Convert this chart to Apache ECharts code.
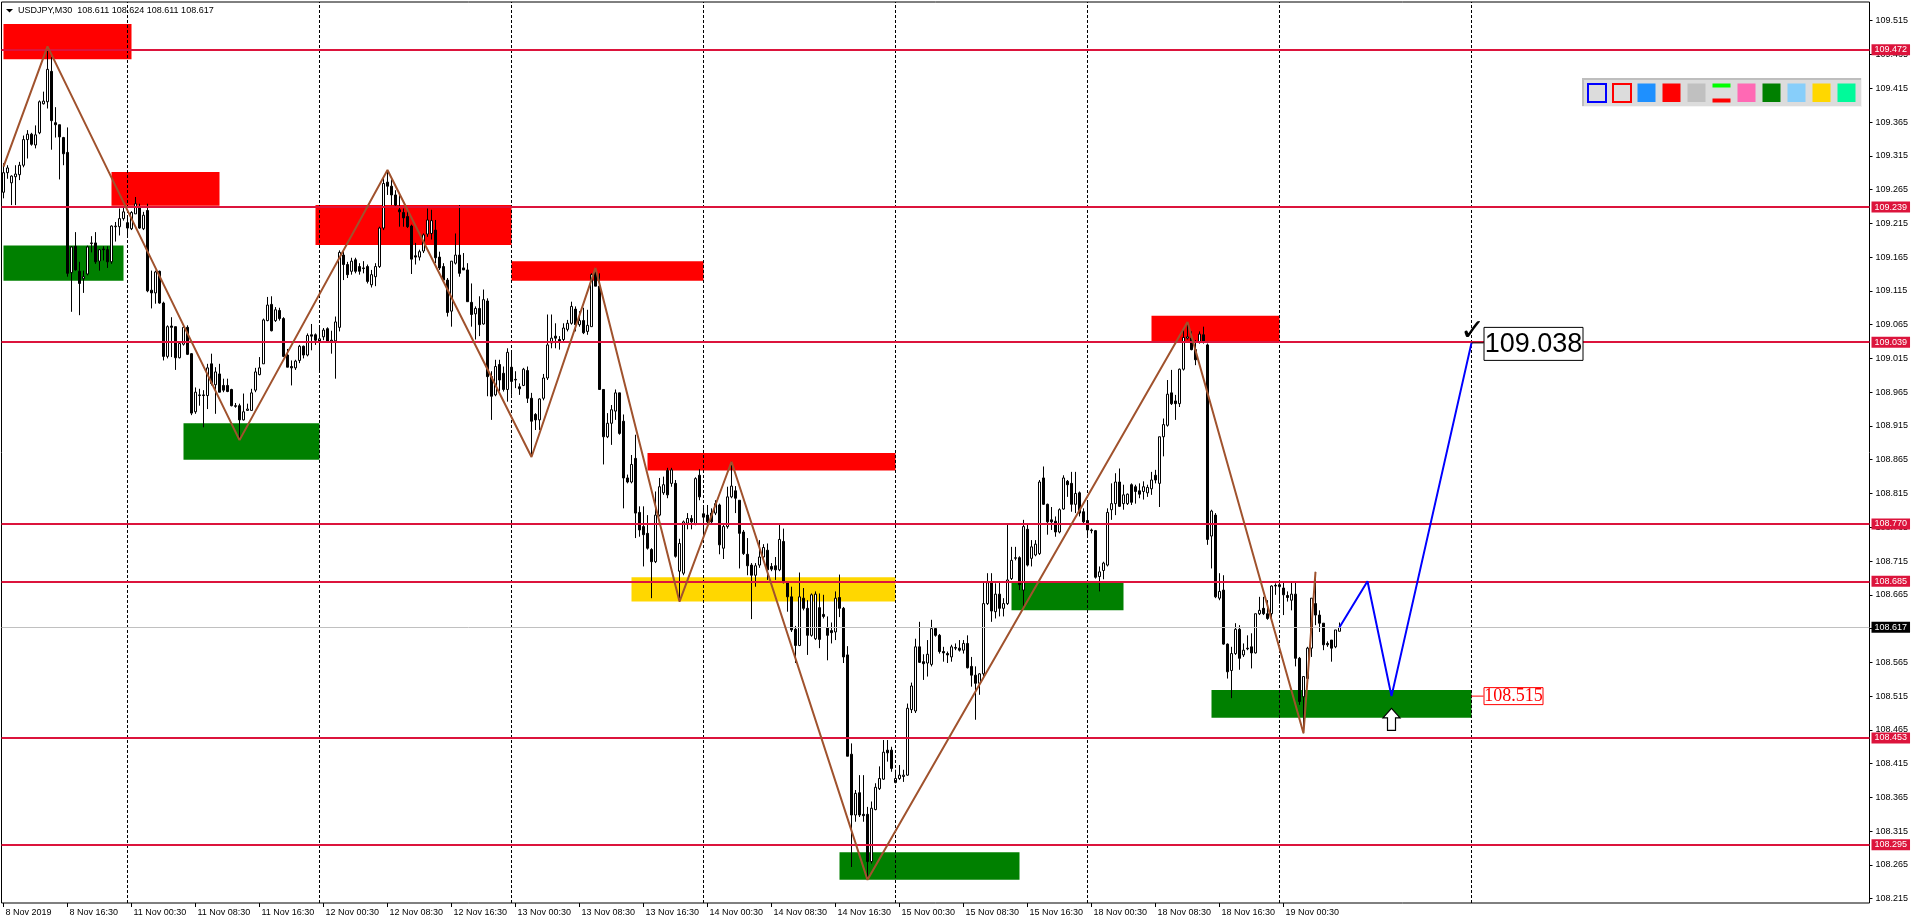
<!DOCTYPE html>
<html><head><meta charset="utf-8">
<script src="https://cdn.jsdelivr.net/npm/echarts@6/dist/echarts.min.js"></script>
<style>html,body{margin:0;padding:0;background:#fff;overflow:hidden}#c{width:1916px;height:923px}</style>
</head><body><div id="c"></div>
<script>
// ---------------- DATA ----------------
const titleText = 'USDJPY,M30  108.611 108.624 108.611 108.617';
const nSlots = 467; // bar slots on the time axis (real bars + chart shift)
const categories = Array.from({length: nSlots}, (_, i) => String(i));
const xTickLabels = ['8 Nov 2019','8 Nov 16:30','11 Nov 00:30','11 Nov 08:30','11 Nov 16:30','12 Nov 00:30','12 Nov 08:30','12 Nov 16:30','13 Nov 00:30','13 Nov 08:30','13 Nov 16:30','14 Nov 00:30','14 Nov 08:30','14 Nov 16:30','15 Nov 00:30','15 Nov 08:30','15 Nov 16:30','18 Nov 00:30','18 Nov 08:30','18 Nov 16:30','19 Nov 00:30'];
const yTickValues = [108.215,108.265,108.315,108.365,108.415,108.465,108.515,108.565,108.615,108.665,108.715,108.765,108.815,108.865,108.915,108.965,109.015,109.065,109.115,109.165,109.215,109.265,109.315,109.365,109.415,109.465,109.515];
const daySeparators = [31,79,127,175,223,271,319,367];
const levels = [109.472,109.239,109.039,108.770,108.685,108.453,108.295];
const bidPrice = 108.617;
// [startBar, endBar, top, bottom]
const redZones = [[0,32,109.510,109.458],[27,54,109.291,109.241],[78,127,109.242,109.183],[127,175,109.159,109.130],[161,223,108.875,108.849],[287,319,109.078,109.040]];
const greenZones = [[0,30,109.182,109.130],[45,79,108.919,108.865],[209,254,108.284,108.243],[252,280,108.685,108.642],[302,367,108.524,108.483]];
const yellowZones = [[157,223,108.691,108.655]];
const zigzagBars = [0,11,59,96,132,148,169,182,216,296,325,328];
const zigzagPrices = [109.299,109.477,108.894,109.294,108.869,109.149,108.655,108.862,108.243,109.069,108.460,108.699];
const projBars = [334,341,347,367];
const projPrices = [108.617,108.685,108.515,109.038];
const targetHigh = {bar: 367, price: 109.038};
const targetLow = {bar: 367, price: 108.515};
const arrowAt = {bar: 347, price: 108.497};
// candles: [open, close, low, high]
const ohlc = [
[109.261,109.290,109.252,109.304],[109.290,109.297,109.281,109.301],[109.275,109.285,109.242,109.286],[109.284,109.288,109.242,109.301],[109.287,109.301,109.279,109.306],
[109.301,109.339,109.298,109.345],[109.339,109.347,109.311,109.353],[109.347,109.332,109.330,109.349],[109.331,109.346,109.326,109.360],[109.349,109.395,109.347,109.397],
[109.392,109.396,109.391,109.410],[109.395,109.443,109.385,109.477],[109.440,109.367,109.324,109.461],[109.364,109.361,109.342,109.387],[109.361,109.343,109.280,109.361],
[109.342,109.318,109.301,109.343],[109.320,109.141,109.136,109.357],[109.142,109.180,109.084,109.181],[109.181,109.146,109.145,109.202],[109.144,109.126,109.079,109.158],
[109.133,109.136,109.112,109.145],[109.140,109.180,109.138,109.182],[109.185,109.186,109.172,109.196],[109.186,109.158,109.155,109.202],[109.159,109.176,109.145,109.177],
[109.177,109.176,109.160,109.181],[109.176,109.158,109.149,109.181],[109.158,109.211,109.155,109.212],[109.210,109.211,109.188,109.217],[109.210,109.222,109.197,109.237],
[109.222,109.232,109.219,109.239],[109.216,109.208,109.195,109.224],[109.207,109.231,109.205,109.233],[109.229,109.244,109.229,109.254],[109.239,109.208,109.207,109.244],
[109.207,109.227,109.205,109.232],[109.234,109.115,109.113,109.244],[109.116,109.112,109.089,109.145],[109.112,109.143,109.096,109.145],[109.144,109.097,109.096,109.145],
[109.097,109.018,109.012,109.099],[109.018,109.062,109.015,109.064],[109.063,109.061,109.017,109.076],[109.062,109.016,108.998,109.062],[109.016,109.037,109.015,109.039],
[109.036,109.061,109.034,109.066],[109.061,109.021,109.020,109.064],[109.022,108.934,108.931,109.023],[108.936,108.965,108.933,108.972],[108.960,108.961,108.945,108.970],
[108.961,108.960,108.913,108.968],[108.960,109.001,108.940,109.007],[109.007,108.978,108.975,109.022],[108.976,108.995,108.933,109.002],[108.992,108.965,108.965,109.007],
[108.975,108.968,108.965,108.985],[108.975,108.966,108.965,108.985],[108.969,108.945,108.944,108.970],[108.945,108.944,108.942,108.949],[108.945,108.924,108.894,108.948],
[108.924,108.936,108.923,108.963],[108.938,108.940,108.938,108.948],[108.938,108.964,108.938,108.970],[108.968,108.995,108.965,109.001],[108.991,109.001,108.990,109.017],
[109.007,109.072,109.007,109.074],[109.071,109.094,109.070,109.106],[109.095,109.056,109.055,109.107],[109.071,109.087,109.069,109.091],[109.086,109.074,109.071,109.090],
[109.074,109.018,109.017,109.076],[109.020,109.002,109.002,109.029],[109.003,109.001,108.975,109.012],[109.001,109.011,108.998,109.013],[109.012,109.033,109.008,109.035],
[109.033,109.020,109.015,109.034],[109.020,109.049,109.018,109.052],[109.050,109.048,109.027,109.066],[109.050,109.042,109.035,109.052],[109.039,109.044,108.997,109.061],
[109.047,109.057,109.042,109.060],[109.059,109.039,109.038,109.061],[109.042,109.039,109.022,109.056],[109.041,109.069,108.985,109.077],[109.061,109.172,109.055,109.175],
[109.168,109.154,109.131,109.176],[109.154,109.139,109.134,109.158],[109.144,109.159,109.139,109.164],[109.161,109.144,109.141,109.164],[109.151,109.144,109.139,109.156],
[109.149,109.148,109.141,109.159],[109.151,109.129,109.126,109.154],[109.124,109.139,109.120,109.146],[109.136,109.151,109.122,109.156],[109.151,109.208,109.149,109.210],
[109.208,109.274,109.205,109.285],[109.276,109.270,109.257,109.294],[109.270,109.257,109.242,109.280],[109.257,109.242,109.240,109.264],[109.235,109.232,109.210,109.259],
[109.231,109.223,109.210,109.237],[109.225,109.210,109.208,109.235],[109.211,109.162,109.140,109.213],[109.167,109.165,109.154,109.186],[109.165,109.173,109.160,109.176],
[109.174,109.198,109.171,109.200],[109.199,109.220,109.195,109.237],[109.200,109.219,109.191,109.235],[109.205,109.164,109.156,109.220],[109.165,109.149,109.146,109.173],
[109.151,109.131,109.129,109.156],[109.131,109.083,109.077,109.134],[109.085,109.159,109.062,109.159],[109.156,109.168,109.154,109.200],[109.168,109.141,109.136,109.242],
[109.149,109.146,109.146,109.171],[109.146,109.099,109.099,109.156],[109.098,109.080,109.062,109.126],[109.081,109.089,109.043,109.092],[109.089,109.065,109.048,109.107],
[109.066,109.102,109.065,109.117],[109.100,108.988,108.959,109.104],[108.988,108.959,108.924,108.996],[108.961,109.003,108.959,109.013],[109.006,108.983,108.966,109.013],
[108.993,108.969,108.966,109.003],[108.969,109.024,108.951,109.030],[109.002,108.981,108.961,109.025],[108.984,108.983,108.971,108.996],[108.973,108.970,108.961,108.978],
[108.975,108.999,108.974,109.001],[108.997,108.956,108.949,109.003],[108.956,108.922,108.869,108.964],[108.932,108.924,108.909,108.934],[108.924,108.955,108.909,108.956],
[108.956,108.986,108.953,108.992],[108.986,109.035,108.983,109.080],[109.038,109.045,109.030,109.080],[109.048,109.045,109.030,109.067],[109.043,109.039,109.028,109.048],
[109.043,109.060,109.040,109.067],[109.058,109.067,109.055,109.072],[109.067,109.092,109.065,109.099],[109.088,109.065,109.055,109.092],[109.065,109.071,109.062,109.085],
[109.071,109.053,109.051,109.090],[109.055,109.064,109.050,109.087],[109.062,109.139,109.062,109.141],[109.144,109.122,109.122,109.149],[109.122,108.969,108.969,109.141],
[108.969,108.899,108.858,108.969],[108.899,108.919,108.897,108.934],[108.919,108.939,108.887,108.946],[108.937,108.964,108.924,108.969],[108.964,108.904,108.902,108.964],
[108.922,108.838,108.793,108.932],[108.838,108.832,108.830,108.843],[108.832,108.858,108.830,108.872],[108.867,108.786,108.749,108.902],[108.787,108.761,108.751,108.796],
[108.766,108.754,108.707,108.796],[108.756,108.734,108.732,108.783],[108.732,108.714,108.660,108.734],[108.714,108.783,108.712,108.818],[108.783,108.825,108.781,108.838],
[108.816,108.828,108.813,108.840],[108.849,108.813,108.808,108.853],[108.830,108.850,108.825,108.853],[108.830,108.722,108.720,108.835],[108.700,108.741,108.655,108.748],
[108.697,108.773,108.694,108.775],[108.771,108.778,108.762,108.786],[108.778,108.773,108.762,108.783],[108.770,108.837,108.768,108.839],[108.842,108.810,108.805,108.851],
[108.785,108.780,108.753,108.796],[108.783,108.773,108.771,108.798],[108.786,108.773,108.770,108.793],[108.786,108.800,108.783,108.805],[108.798,108.739,108.725,108.800],
[108.734,108.766,108.718,108.771],[108.766,108.810,108.763,108.825],[108.810,108.826,108.808,108.862],[108.819,108.808,108.786,108.826],[108.805,108.756,108.704,108.805],
[108.758,108.726,108.724,108.761],[108.725,108.708,108.694,108.749],[108.709,108.694,108.629,108.712],[108.694,108.708,108.677,108.712],[108.709,108.721,108.705,108.746],
[108.721,108.735,108.716,108.740],[108.731,108.702,108.687,108.741],[108.707,108.703,108.700,108.712],[108.708,108.702,108.687,108.721],[108.702,108.747,108.700,108.770],
[108.744,108.683,108.682,108.763],[108.683,108.662,108.640,108.683],[108.662,108.613,108.610,108.677],[108.614,108.590,108.564,108.619],[108.590,108.662,108.589,108.698],
[108.660,108.645,108.642,108.675],[108.645,108.605,108.576,108.657],[108.605,108.665,108.603,108.667],[108.600,108.666,108.598,108.670],[108.646,108.599,108.586,108.667],
[108.636,108.633,108.630,108.665],[108.616,108.605,108.568,108.633],[108.612,108.609,108.593,108.624],[108.610,108.660,108.598,108.670],[108.661,108.645,108.632,108.695],
[108.645,108.573,108.564,108.647],[108.576,108.426,108.426,108.589],[108.429,108.339,108.262,108.445],[108.339,108.371,108.329,108.376],[108.372,108.339,108.336,108.398],
[108.340,108.338,108.329,108.398],[108.340,108.270,108.243,108.351],[108.270,108.349,108.267,108.359],[108.347,108.380,108.346,108.386],[108.378,108.393,108.376,108.411],
[108.392,108.432,108.391,108.450],[108.435,108.431,108.418,108.450],[108.435,108.408,108.403,108.440],[108.387,108.393,108.386,108.406],[108.393,108.398,108.391,108.413],
[108.396,108.398,108.388,108.406],[108.398,108.497,108.397,108.504],[108.495,108.530,108.490,108.535],[108.493,108.588,108.490,108.600],[108.588,108.565,108.564,108.625],
[108.566,108.563,108.539,108.577],[108.564,108.577,108.544,108.598],[108.562,108.615,108.559,108.628],[108.615,108.605,108.603,108.616],[108.605,108.581,108.578,108.607],
[108.581,108.579,108.566,108.588],[108.578,108.576,108.564,108.581],[108.573,108.588,108.566,108.591],[108.587,108.586,108.583,108.593],[108.586,108.583,108.581,108.598],
[108.583,108.593,108.578,108.598],[108.593,108.557,108.556,108.605],[108.559,108.546,108.529,108.573],[108.546,108.534,108.480,108.559],[108.534,108.548,108.517,108.549],
[108.548,108.652,108.544,108.684],[108.652,108.683,108.650,108.697],[108.683,108.641,108.625,108.697],[108.640,108.666,108.630,108.682],[108.666,108.645,108.633,108.684],
[108.645,108.652,108.633,108.660],[108.652,108.687,108.650,108.771],[108.689,108.716,108.687,108.736],[108.719,108.720,108.716,108.736],[108.720,108.680,108.672,108.722],
[108.672,108.766,108.647,108.776],[108.762,108.709,108.707,108.771],[108.719,108.736,108.707,108.746],[108.724,108.740,108.722,108.746],[108.726,108.832,108.724,108.835],
[108.838,108.799,108.798,108.855],[108.799,108.773,108.754,108.800],[108.776,108.773,108.761,108.795],[108.774,108.758,108.751,108.781],[108.758,108.791,108.756,108.793],
[108.792,108.838,108.791,108.842],[108.833,108.828,108.810,108.835],[108.830,108.799,108.788,108.847],[108.799,108.815,108.786,108.847],[108.816,108.786,108.781,108.818],
[108.788,108.773,108.771,108.793],[108.775,108.761,108.749,108.805],[108.761,108.760,108.756,108.763],[108.760,108.691,108.689,108.761],[108.692,108.699,108.670,108.707],
[108.701,108.712,108.688,108.714],[108.709,108.787,108.707,108.793],[108.791,108.800,108.776,108.830],[108.800,108.832,108.783,108.845],[108.832,108.796,108.795,108.852],
[108.800,108.813,108.791,108.828],[108.800,108.814,108.798,108.815],[108.828,108.802,108.798,108.830],[108.825,108.818,108.800,108.828],[108.819,108.814,108.808,108.830],
[108.818,108.825,108.806,108.833],[108.816,108.824,108.810,108.828],[108.822,108.835,108.813,108.847],[108.842,108.835,108.830,108.850],[108.830,108.899,108.795,108.899],
[108.899,108.917,108.870,108.926],[108.916,108.962,108.914,108.983],[108.964,108.948,108.946,108.998],[108.952,108.948,108.924,108.961],[108.948,108.999,108.943,109.000],
[108.999,109.046,108.997,109.060],[109.045,109.047,109.043,109.069],[109.045,109.028,109.027,109.055],[109.028,109.013,109.005,109.042],[109.040,109.051,109.037,109.055],
[109.050,109.040,109.037,109.062],[109.035,108.747,108.739,109.037],[108.752,108.789,108.704,108.791],[108.783,108.662,108.660,108.786],[108.660,108.670,108.657,108.697],
[108.672,108.592,108.591,108.694],[108.592,108.551,108.541,108.593],[108.553,108.578,108.512,108.588],[108.578,108.614,108.576,108.623],[108.614,108.571,108.554,108.620],
[108.576,108.583,108.573,108.593],[108.586,108.585,108.583,108.605],[108.588,108.579,108.556,108.608],[108.579,108.637,108.578,108.637],[108.637,108.642,108.635,108.662],
[108.645,108.637,108.635,108.662],[108.637,108.630,108.628,108.657],[108.637,108.678,108.625,108.679],[108.679,108.678,108.665,108.682],[108.677,108.680,108.652,108.684],
[108.675,108.665,108.635,108.684],[108.664,108.661,108.655,108.670],[108.657,108.666,108.642,108.684],[108.666,108.571,108.559,108.684],[108.571,108.507,108.502,108.573],
[108.514,108.544,108.460,108.544],[108.541,108.586,108.539,108.588],[108.586,108.660,108.573,108.660],[108.652,108.635,108.620,108.699],[108.635,108.623,108.610,108.642],
[108.623,108.591,108.583,108.623],[108.593,108.591,108.588,108.596],[108.598,108.586,108.566,108.598],[108.588,108.613,108.586,108.613],[108.611,108.617,108.611,108.624]
];

// ---------------- STYLE ----------------
const FONT = 'Liberation Sans';
const CRIMSON = '#DC143C';
const tickShown = (i) => i % 16 === 0 && i / 16 < xTickLabels.length;

function zoneItems(list, color) {
  return list.map(z => [{coord: [z[0], z[2]], itemStyle: {color: color}}, {coord: [z[1], z[3]]}]);
}
const tagLabel = (bg, v) => ({
  show: true, position: 'end', distance: 2, formatter: v.toFixed(3),
  backgroundColor: bg, color: '#fff', fontSize: 9, fontFamily: FONT, padding: [1, 3, 1, 3], lineHeight: 9
});
const markLineData = [];
daySeparators.forEach(b => markLineData.push({xAxis: b, lineStyle: {color: '#000', width: 1, type: [3, 2]}, label: {show: false}}));
markLineData.push({yAxis: bidPrice, lineStyle: {color: '#C0C0C0', width: 1, type: 'solid'}, label: tagLabel('#000', bidPrice)});
levels.forEach(v => markLineData.push({yAxis: v, lineStyle: {color: CRIMSON, width: 2, type: 'solid'}, label: tagLabel(CRIMSON, v)}));

const option = {
  animation: false,
  backgroundColor: '#ffffff',
  grid: {left: 1.5, right: 46.5, top: 2, bottom: 20, show: true, borderColor: '#000', borderWidth: 1, backgroundColor: 'transparent'},
  xAxis: {
    type: 'category', data: categories, boundaryGap: true,
    axisLine: {show: false},
    axisTick: {show: true, alignWithLabel: true, interval: tickShown, length: 4, lineStyle: {color: '#000'}},
    axisLabel: {show: true, interval: tickShown, formatter: (v, i) => xTickLabels[i / 16] || '', align: 'left',
      margin: 5, color: '#000', fontSize: 9, fontFamily: FONT, padding: [0, 0, 0, 2]},
    splitLine: {show: false}
  },
  yAxis: {
    type: 'value', position: 'right', min: 108.2087, max: 109.5427,
    axisLine: {show: false},
    axisTick: {show: true, customValues: yTickValues, length: 3, lineStyle: {color: '#000'}},
    axisLabel: {show: true, customValues: yTickValues, formatter: v => Number(v).toFixed(3), margin: 6, color: '#000', fontSize: 9, fontFamily: FONT},
    splitLine: {show: false}
  },
  series: [
    {
      type: 'candlestick', name: 'USDJPY', data: ohlc, barWidth: 3, z: 3,
      itemStyle: {color: '#ffffff', color0: '#000000', borderColor: '#000000', borderColor0: '#000000', borderWidth: 1},
      markArea: {silent: true, z: 1, label: {show: false},
        data: [].concat(zoneItems(redZones, '#FF0000'), zoneItems(greenZones, '#008000'), zoneItems(yellowZones, '#FFD700'))},
      markLine: {silent: true, symbol: ['none', 'none'], precision: 3, z: 4, data: markLineData}
    },
    {
      type: 'line', name: 'ZigZag', data: zigzagBars.map((b, k) => [b, zigzagPrices[k]]), z: 6,
      symbol: 'none', lineStyle: {color: '#A0522D', width: 2}, silent: true
    },
    {
      type: 'line', name: 'Projection', data: projBars.map((b, k) => [b, projPrices[k]]), z: 6,
      symbol: 'none', lineStyle: {color: '#0000FF', width: 2}, silent: true
    }
  ]
};

const chart = echarts.init(document.getElementById('c'));
chart.setOption(option);

// ---------------- ANNOTATIONS (placed through the chart's own scales) ----------------
const px = (b, v) => chart.convertToPixel({xAxisIndex: 0, yAxisIndex: 0}, [b, v]);
const g = [];
// title
g.push({type: 'polygon', shape: {points: [[6, 9], [13, 9], [9.5, 12.5]]}, style: {fill: '#000'}, z: 100});
g.push({type: 'text', x: 18, y: 11, style: {text: titleText, fill: '#000', fontSize: 9, fontFamily: FONT, verticalAlign: 'middle', align: 'left'}, z: 100});
// palette panel
g.push({type: 'rect', shape: {x: 1582, y: 78, width: 280, height: 29}, style: {fill: '#F4F4F4'}, z: 100});
g.push({type: 'rect', shape: {x: 1582, y: 78, width: 279, height: 28}, style: {fill: '#BEBEBE'}, z: 100});
g.push({type: 'rect', shape: {x: 1584, y: 80, width: 277, height: 26}, style: {fill: '#DCDCDC'}, z: 100});
const pal = [
  {t: 'o', c: '#0000FF'}, {t: 'o', c: '#FF0000'}, {t: 'f', c: '#1E90FF'}, {t: 'f', c: '#FF0000'}, {t: 'f', c: '#C0C0C0'},
  {t: 'gr', c: ''}, {t: 'f', c: '#FF69B4'}, {t: 'f', c: '#008000'}, {t: 'f', c: '#87CEFA'}, {t: 'f', c: '#FFD700'}, {t: 'f', c: '#00FA9A'}
];
pal.forEach((p, k) => {
  const x = 1587.5 + 25 * k, y = 83.5;
  if (p.t === 'o') g.push({type: 'rect', shape: {x: x + 0.5, y: y + 0.5, width: 18, height: 18}, style: {fill: '#DCDCDC', stroke: p.c, lineWidth: 2}, z: 101});
  else if (p.t === 'f') g.push({type: 'rect', shape: {x: x, y: y, width: 18, height: 18.5}, style: {fill: p.c}, z: 101});
  else {
    g.push({type: 'rect', shape: {x: x, y: y, width: 18, height: 4}, style: {fill: '#00FF00'}, z: 101});
    g.push({type: 'rect', shape: {x: x, y: y + 15, width: 18, height: 4}, style: {fill: '#FF0000'}, z: 101});
  }
});
// high target label
const pH = px(targetHigh.bar, targetHigh.price);
g.push({type: 'line', shape: {x1: pH[0], y1: pH[1], x2: pH[0] + 12, y2: pH[1]}, style: {stroke: '#000', lineWidth: 1}, z: 100});
g.push({type: 'rect', shape: {x: pH[0] + 12.5, y: pH[1] - 15.5, width: 99, height: 33}, style: {fill: '#fff', stroke: '#000', lineWidth: 1}, z: 100});
g.push({type: 'text', x: pH[0] + 62, y: pH[1] + 1.5, style: {text: targetHigh.price.toFixed(3), fill: '#000', fontSize: 27, fontFamily: FONT, align: 'center', verticalAlign: 'middle'}, z: 101});
g.push({type: 'text', x: pH[0] + 1, y: pH[1] + 4, style: {text: '\u2713', fill: '#000', fontSize: 30, fontWeight: 'bold', fontFamily: 'DejaVu Sans', align: 'center', verticalAlign: 'bottom'}, z: 101});
// low target label
const pL = px(targetLow.bar, targetLow.price);
g.push({type: 'line', shape: {x1: pL[0], y1: pL[1], x2: pL[0] + 12, y2: pL[1]}, style: {stroke: '#FF0000', lineWidth: 1}, z: 100});
g.push({type: 'rect', shape: {x: pL[0] + 12.5, y: pL[1] - 8.5, width: 59, height: 17}, style: {fill: '#fff', stroke: '#FF0000', lineWidth: 1}, z: 100});
g.push({type: 'text', x: pL[0] + 42, y: pL[1] + 0.5, style: {text: targetLow.price.toFixed(3), fill: '#FF0000', fontSize: 18, fontFamily: 'Liberation Serif', align: 'center', verticalAlign: 'middle'}, z: 101});
// up arrow
const pA = px(arrowAt.bar, arrowAt.price);
const ax = pA[0], ay = pA[1];
g.push({type: 'polygon', shape: {points: [[ax, ay], [ax + 8.5, ay + 9.5], [ax + 4, ay + 9.5], [ax + 4, ay + 22], [ax - 4, ay + 22], [ax - 4, ay + 9.5], [ax - 8.5, ay + 9.5]]},
  style: {fill: '#fff', stroke: '#000', lineWidth: 1.2}, z: 100});
chart.setOption({graphic: g});
</script>
</body></html>
